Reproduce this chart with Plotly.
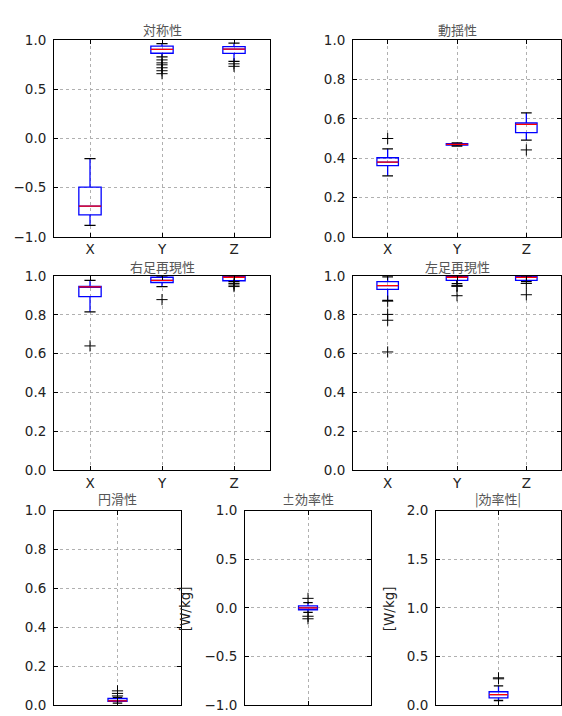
import plotly.graph_objects as go

# ---------------- data ----------------
CATS = ["X", "Y", "Z"]
TITLES = ["対称性", "動揺性", "右足再現性", "左足再現性", "円滑性", "±効率性", "|効率性|"]

# each row: [lower whisker, q1, median, q3, upper whisker]
SYMMETRY_STATS = [[-0.884, -0.778, -0.689, -0.494, -0.204],
                  [0.83, 0.868, 0.907, 0.940, 0.965],
                  [0.785, 0.867, 0.910, 0.935, 0.970]]
SYMMETRY_OUT = [[], [0.80, 0.77, 0.75, 0.72, 0.69, 0.66], [0.76, 0.735]]

SWAY_STATS = [[0.31, 0.362, 0.380, 0.402, 0.447],
              [0.462, 0.466, 0.470, 0.474, 0.478],
              [0.492, 0.530, 0.572, 0.580, 0.630]]
SWAY_OUT = [[0.50], [], [0.442]]

RIGHT_STATS = [[0.815, 0.893, 0.943, 0.946, 0.977],
               [0.945, 0.966, 0.977, 0.993, 1.0],
               [0.970, 0.975, 0.993, 1.0, 1.0]]
RIGHT_OUT = [[0.64], [0.878], [0.961, 0.953, 0.945]]

LEFT_STATS = [[0.874, 0.931, 0.950, 0.970, 0.995],
              [0.960, 0.977, 0.993, 1.0, 1.0],
              [0.970, 0.977, 0.992, 0.998, 1.0]]
LEFT_OUT = [[0.87, 0.802, 0.772, 0.609], [0.95, 0.946, 0.898], [0.961, 0.903]]

SMOOTH_STATS = [[0.010, 0.019, 0.022, 0.034, 0.040]]
SMOOTH_OUT = [[0.047, 0.060, 0.073]]

SIGNED_EFF_STATS = [[-0.047, -0.020, 0.0, 0.020, 0.053]]
SIGNED_EFF_OUT = [[0.097, -0.087, -0.113]]

ABS_EFF_STATS = [[0.047, 0.073, 0.107, 0.137, 0.197]]
ABS_EFF_OUT = [[0.28, 0.27]]

Y_UNIT = "[W/kg]"

# ---------------- layout config ----------------
W, H = 562, 716
# (stats, outliers, yrange, dtick, x px domain, y px domain, box width, show x labels, ylabel x px)
PANELS = [
    (SYMMETRY_STATS, SYMMETRY_OUT, [-1, 1], 0.5, (54, 270), (33, 234), 0.31, True, None),
    (SWAY_STATS, SWAY_OUT, [0, 1], 0.2, (353, 561), (33, 234), 0.31, True, None),
    (RIGHT_STATS, RIGHT_OUT, [0, 1], 0.2, (54, 270), (274, 473), 0.31, True, None),
    (LEFT_STATS, LEFT_OUT, [0, 1], 0.2, (353, 561), (274, 473), 0.31, True, None),
    (SMOOTH_STATS, SMOOTH_OUT, [0, 1], 0.2, (54, 181), (514, 713), 0.15, False, None),
    (SIGNED_EFF_STATS, SIGNED_EFF_OUT, [-1, 1], 0.5, (245, 371), (514, 713), 0.15, False, 185),
    (ABS_EFF_STATS, ABS_EFF_OUT, [0, 2], 0.5, (436, 561), (514, 713), 0.15, False, 389),
]
TITLE_Y = {33: 22, 274: 264, 514: 502}

fig = go.Figure()
layout = dict(width=W, height=H, margin=dict(l=0, r=0, t=0, b=0),
              paper_bgcolor="white", plot_bgcolor="white", showlegend=False,
              annotations=[])

for i, (stats, outs, yr, dt, (x0, x1), (y0, y1), bw, showx, ylab_x) in enumerate(PANELS):
    k = i + 1
    xa = "x" if k == 1 else f"x{k}"
    ya = "y" if k == 1 else f"y{k}"
    pos = list(range(1, len(stats) + 1))

    fig.add_trace(go.Box(
        x=pos,
        lowerfence=[s[0] for s in stats], q1=[s[1] for s in stats],
        median=[s[2] for s in stats], q3=[s[3] for s in stats],
        upperfence=[s[4] for s in stats],
        width=bw, whiskerwidth=0, boxpoints=False,
        line=dict(color="blue", width=1.3), fillcolor="rgba(0,0,0,0)",
        xaxis=xa, yaxis=ya, hoverinfo="skip"))

    # caps (black)
    cx, cy = [], []
    for p, s in zip(pos, stats):
        for v in (s[0], s[4]):
            cx += [p - bw / 4, p + bw / 4, None]
            cy += [v, v, None]
    fig.add_trace(go.Scatter(x=cx, y=cy, mode="lines", line=dict(color="black", width=1.3),
                             xaxis=xa, yaxis=ya, hoverinfo="skip"))
    # medians (red)
    mx, my = [], []
    for p, s in zip(pos, stats):
        mx += [p - bw / 2, p + bw / 2, None]
        my += [s[2], s[2], None]
    fig.add_trace(go.Scatter(x=mx, y=my, mode="lines", line=dict(color="red", width=1.3),
                             xaxis=xa, yaxis=ya, hoverinfo="skip"))
    # fliers
    fx, fy = [], []
    for p, o in zip(pos, outs):
        fx += [p] * len(o)
        fy += list(o)
    fig.add_trace(go.Scatter(x=fx, y=fy, mode="markers",
                             marker=dict(symbol="cross-thin-open", size=8, color="black",
                                         line=dict(color="black", width=1)),
                             xaxis=xa, yaxis=ya, hoverinfo="skip"))

    common = dict(showgrid=True, griddash="dot", gridcolor="#b0b0b0", gridwidth=1,
                  ticks="inside", ticklen=4, tickcolor="black",
                  showline=True, linecolor="black", linewidth=1, mirror="ticks",
                  zeroline=False, fixedrange=True,
                  tickfont=dict(family="DejaVu Sans", size=13.5, color="#222"))
    layout["xaxis" if k == 1 else f"xaxis{k}"] = dict(
        common, domain=[x0 / W, x1 / W], anchor=ya,
        range=[0.5, len(stats) + 0.5], tickmode="array", tickvals=pos,
        ticktext=CATS if showx else [""] * len(pos), showticklabels=showx)
    layout["yaxis" if k == 1 else f"yaxis{k}"] = dict(
        common, domain=[1 - y1 / H, 1 - y0 / H], anchor=xa,
        range=yr, tickmode="linear", tick0=yr[0], dtick=dt, tickformat=".1f",
        ticklabelstandoff=4)

    layout["annotations"].append(dict(
        text=TITLES[i], xref="paper", yref="paper",
        x=(x0 + x1) / 2 / W, y=1 - TITLE_Y[y0] / H, xanchor="center", yanchor="middle",
        showarrow=False, font=dict(family="Noto Sans CJK JP", size=13, color="#555")))
    if ylab_x is not None:
        layout["annotations"].append(dict(
            text=Y_UNIT, xref="paper", yref="paper", textangle=-90,
            x=ylab_x / W, y=1 - 615 / H, xanchor="center", yanchor="middle",
            showarrow=False, font=dict(family="DejaVu Sans", size=13.5, color="#222")))

fig.update_layout(**layout)
# remove the default page margin synchronously so the figure fills the window exactly
fig.write_html("out.html", config={"displayModeBar": False},
               post_script="}); document.body.style.margin='0'; document.body.style.overflow='hidden'; (function(){")
